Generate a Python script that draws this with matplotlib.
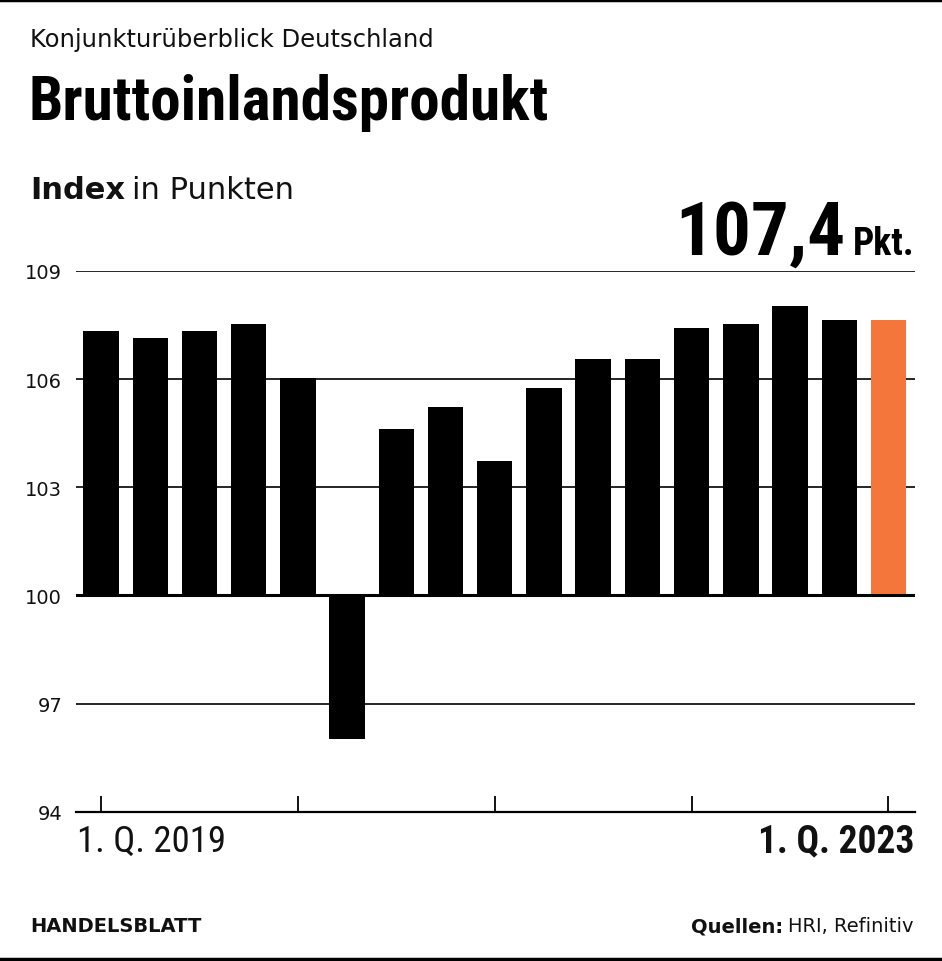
import matplotlib
matplotlib.use("Agg")
import matplotlib.pyplot as plt
from matplotlib import font_manager
import numpy as np

# ---- data ----
quarters = ["Q1 2019", "Q2 2019", "Q3 2019", "Q4 2019",
            "Q1 2020", "Q2 2020", "Q3 2020", "Q4 2020",
            "Q1 2021", "Q2 2021", "Q3 2021", "Q4 2021",
            "Q1 2022", "Q2 2022", "Q3 2022", "Q4 2022",
            "Q1 2023"]
values = [107.34, 107.14, 107.34, 107.53,
          106.03, 96.03, 104.62, 105.23,
          103.74, 105.76, 106.56, 106.56,
          107.42, 107.53, 108.04, 107.65,
          107.65]
baseline = 100
y_ticks = [94, 97, 100, 103, 106, 109]
year_tick_idx = [0, 4, 8, 12, 16]
first_label = "1. Q. 2019"
last_label = "1. Q. 2023"
headline_value = "107,4"
headline_unit = "Pkt."

# pick a condensed family if available
names = {f.name for f in font_manager.fontManager.ttflist}
cond_family = "DejaVu Sans"
for cand in ["Roboto Condensed", "Liberation Sans Narrow", "Open Sans Condensed",
             "Noto Sans Condensed", "DejaVu Sans Condensed"]:
    if cand in names:
        cond_family = cand
        break
NARROW = dict(family=[cond_family, "DejaVu Sans"], fontstretch="condensed")
REG = dict(family=["DejaVu Sans"])

fig = plt.figure(figsize=(9.42, 9.62), dpi=100)
W, H = 942, 962

def fx(px):
    return px / W

def fy(py):
    return 1 - py / H

ax = fig.add_axes([fx(76), fy(812.7), fx(915) - fx(76), fy(272) - fy(812.7)])

x = np.arange(len(values))
colors = ["#000000"] * (len(values) - 1) + ["#F5763A"]
heights = np.array(values) - baseline
ax.bar(x, heights, bottom=baseline, width=0.72, color=colors, zorder=2)

ax.set_xlim(-0.51, len(values) - 1 + 0.54)
ax.set_ylim(94, 109)

for t in y_ticks:
    if t == 94:
        continue
    lw = 2.2 if t == baseline else 1.2
    z = 3 if t == baseline else 1
    ax.axhline(t, color="black", lw=lw, zorder=z)

for s in ["top", "right", "left"]:
    ax.spines[s].set_visible(False)
ax.spines["bottom"].set_linewidth(1.6)

ax.set_yticks(y_ticks)
ax.set_yticklabels([str(t) for t in y_ticks], fontsize=14, color="#111111", **REG)
ax.tick_params(axis="y", length=0, pad=10)

ax.set_xticks(year_tick_idx)
ax.set_xticklabels([""] * len(year_tick_idx))
ax.tick_params(axis="x", direction="in", length=11.5, width=1.3, color="black")

fig.text(fx(77), fy(842), first_label, fontsize=26.5, va="center", ha="left", color="#111111", **NARROW)
fig.text(fx(914), fy(842), last_label, fontweight="bold", fontsize=27, va="center", ha="right", color="#111111", **NARROW)

# titles
fig.text(fx(30), fy(40), "Konjunkturüberblick Deutschland", fontsize=17.5, va="center", ha="left", color="#111111", **REG)
fig.text(fx(28), fy(120), "Bruttoinlandsprodukt", fontweight="bold", fontsize=44, va="baseline", ha="left", color="black", **NARROW)
t1 = fig.text(fx(30), fy(199), "Index", fontweight="bold", fontsize=22, va="baseline", ha="left", color="#111111", **REG)
fig.canvas.draw()
bb = t1.get_window_extent()
fig.text((bb.x1 + 7) / W, fy(199), "in Punkten", fontsize=22, va="baseline", ha="left", color="#111111", **REG)

tu = fig.text(fx(915), fy(255), headline_unit, fontweight="bold", fontsize=27, va="baseline", ha="right", color="black", **NARROW)
fig.canvas.draw()
bu = tu.get_window_extent()
fig.text((bu.x0 - 8) / W, fy(255), headline_value, fontweight="bold", fontsize=54, va="baseline", ha="right", color="black", **NARROW)

# footer
fig.text(fx(30), fy(927), "HANDELSBLATT", fontweight="bold", fontsize=14, va="center", ha="left", color="#111111", **REG)
tq = fig.text(fx(914), fy(927), "HRI, Refinitiv", fontsize=14, va="center", ha="right", color="#111111", **REG)
fig.canvas.draw()
bq = tq.get_window_extent()
fig.text((bq.x0 - 5) / W, fy(927), "Quellen:", fontweight="bold", fontsize=14, va="center", ha="right", color="#111111", **REG)

# frame lines
fig.add_artist(plt.Line2D([0, 1], [fy(1), fy(1)], color="black", lw=2.5, transform=fig.transFigure))
fig.add_artist(plt.Line2D([0, 1], [fy(960), fy(960)], color="black", lw=2.5, transform=fig.transFigure))

fig.savefig("out.png", dpi=100)
